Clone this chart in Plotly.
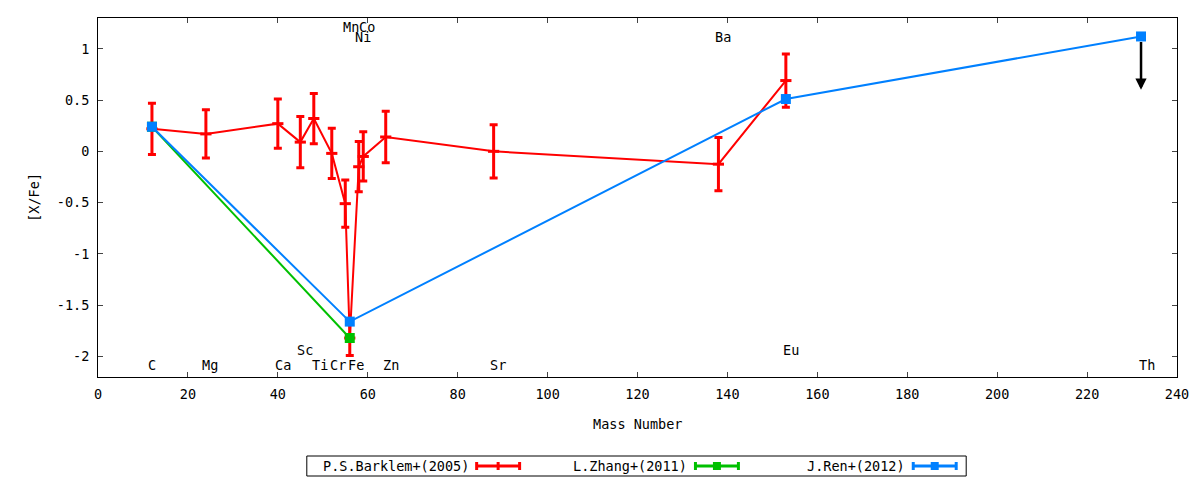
import plotly.graph_objects as go

# Barklem et al. (2005)
bark_mass = [12, 24, 40, 45, 48, 52, 55, 56, 58, 59, 64, 88, 138, 153]
bark_xfe = [0.22, 0.17, 0.27, 0.09, 0.32, -0.02, -0.51, -1.82, -0.15, -0.05, 0.14, 0.0, -0.125, 0.69]
bark_err = [0.25, 0.235, 0.24, 0.25, 0.245, 0.245, 0.23, 0.17, 0.245, 0.24, 0.25, 0.26, 0.26, 0.26]

# Zhang et al. (2011)
zhang_mass = [12, 56]
zhang_xfe = [0.24, -1.82]

# Ren et al. (2012), last point is an upper limit
ren_mass = [12, 56, 153, 232]
ren_xfe = [0.24, -1.66, 0.51, 1.12]
ren_upper_limit = [False, False, False, True]
limit_arrow = 0.52

# element labels
elem_names = ["C", "Mg", "Ca", "Sc", "Ti", "Cr", "Fe", "Zn", "Sr", "Ba", "Eu", "Th", "Mn", "Co", "Ni"]
elem_x = [12.1, 25.0, 41.1, 46.0, 49.3, 53.4, 57.3, 65.2, 88.9, 139.1, 154.2, 233.4, 56.2, 59.8, 59.0]
elem_y = [-2.08, -2.08, -2.08, -1.94, -2.08, -2.08, -2.08, -2.08, -2.08, 1.115, -1.94, -2.08, 1.215, 1.215, 1.11]

xticks = [0, 20, 40, 60, 80, 100, 120, 140, 160, 180, 200, 220, 240]
yticks = [1, 0.5, 0, -0.5, -1, -1.5, -2]
ytick_text = ["1", "0.5", "0", "-0.5", "-1", "-1.5", "-2"]

legend_names = ["P.S.Barklem+(2005)", "L.Zhang+(2011)", "J.Ren+(2012)"]

RED = "#ff0000"
GREEN = "#00c000"
BLUE = "#0080ff"
FONT = "DejaVu Sans Mono"
FS = 13.5

fig = go.Figure()

fig.add_trace(go.Scatter(
    x=bark_mass, y=bark_xfe, mode="lines+markers", name=legend_names[0],
    line=dict(color=RED, width=2),
    marker=dict(symbol="line-ew", size=8, line=dict(color=RED, width=3)),
    error_y=dict(type="data", array=bark_err, visible=True, color=RED, thickness=3, width=4),
))
fig.add_trace(go.Scatter(
    x=zhang_mass, y=zhang_xfe, mode="lines+markers", name=legend_names[1],
    line=dict(color=GREEN, width=2),
    marker=dict(symbol="square", size=10, color=GREEN),
))
fig.add_trace(go.Scatter(
    x=ren_mass, y=ren_xfe, mode="lines+markers", name=legend_names[2],
    line=dict(color=BLUE, width=2),
    marker=dict(symbol="square", size=10, color=BLUE),
))

# upper limit arrows
for m, v, ul in zip(ren_mass, ren_xfe, ren_upper_limit):
    if ul:
        fig.add_annotation(x=m, y=v - limit_arrow, ax=m, ay=v, xref="x", yref="y",
                           axref="x", ayref="y", text="", showarrow=True,
                           arrowhead=2, arrowsize=0.9, arrowwidth=2.5,
                           arrowcolor="black", startstandoff=4)

for name, ex, ey in zip(elem_names, elem_x, elem_y):
    fig.add_annotation(x=ex, y=ey, text=name, showarrow=False,
                       xanchor="center", yanchor="middle",
                       font=dict(family=FONT, size=FS, color="black"))

# axis titles
fig.add_annotation(x=0.5, y=-0.132, xref="paper", yref="paper", text="Mass Number",
                   xanchor="center", yanchor="middle", showarrow=False,
                   font=dict(family=FONT, size=FS, color="black"))
fig.add_annotation(x=-0.06, y=0.5, xref="paper", yref="paper", text="[X/Fe]",
                   xanchor="center", yanchor="middle", textangle=-90, showarrow=False,
                   font=dict(family=FONT, size=FS, color="black"))

# gnuplot style key below the plot: text then sample
def px2x(px):
    return (px - 97) / 1080.0


def py2y(py):
    return (376 - py) / 359.0


fig.add_shape(type="rect", xref="paper", yref="paper",
              x0=px2x(306), x1=px2x(966), y0=py2y(455), y1=py2y(475),
              line=dict(color="black", width=1))
key_text_end = [470, 689, 907]
key_colors = [RED, GREEN, BLUE]
ky = py2y(465)
for name, tx, col, i in zip(legend_names, key_text_end, key_colors, range(3)):
    fig.add_annotation(x=px2x(tx), y=ky, xref="paper", yref="paper", text=name,
                       xanchor="right", yanchor="middle", showarrow=False,
                       font=dict(family=FONT, size=FS, color="black"))
    s0 = tx + 6
    s1 = tx + 49
    fig.add_shape(type="line", xref="paper", yref="paper", x0=px2x(s0), x1=px2x(s1),
                  y0=ky, y1=ky, line=dict(color=col, width=3))
    for cx in (s0, s1):
        fig.add_shape(type="line", xref="paper", yref="paper", x0=px2x(cx), x1=px2x(cx),
                      y0=py2y(461), y1=py2y(469), line=dict(color=col, width=3))
    mid = (s0 + s1) / 2
    if i == 0:
        fig.add_shape(type="line", xref="paper", yref="paper", x0=px2x(mid), x1=px2x(mid),
                      y0=py2y(461), y1=py2y(469), line=dict(color=col, width=3))
    else:
        fig.add_shape(type="rect", xref="paper", yref="paper", x0=px2x(mid - 4), x1=px2x(mid + 4),
                      y0=py2y(461), y1=py2y(469), line=dict(color=col, width=0), fillcolor=col)

fig.update_xaxes(range=[0, 240], tickvals=xticks, ticks="inside", ticklen=5,
                 showline=True, linecolor="black", linewidth=1, mirror="allticks",
                 showgrid=False, zeroline=False, ticklabelstandoff=5,
                 tickfont=dict(family=FONT, size=FS, color="black"))
fig.update_yaxes(range=[-2.2, 1.3], tickvals=yticks, ticktext=ytick_text, ticks="inside",
                 ticklen=5, showline=True, linecolor="black", linewidth=1, mirror="allticks",
                 showgrid=False, zeroline=False, ticklabelstandoff=5,
                 tickfont=dict(family=FONT, size=FS, color="black"))

# page body has an 8px margin, so shift the plot area accordingly
fig.update_layout(width=1200, height=480, showlegend=False,
                  margin=dict(l=90, r=31, t=10, b=111),
                  plot_bgcolor="white", paper_bgcolor="white")

fig.write_html("out.html")
